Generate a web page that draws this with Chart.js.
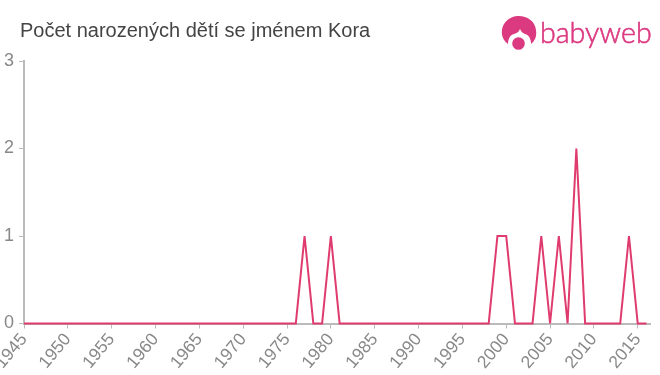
<!doctype html>
<html>
<head>
  <meta charset="utf-8">
  <script src="https://cdn.jsdelivr.net/npm/chart.js@4/dist/chart.umd.min.js"></script>
  <style>
    html, body { margin: 0; padding: 0; background: #fff; overflow: hidden; }
    #wrap { position: relative; width: 660px; height: 375px; }
    #f { position: absolute; left: 0; top: 0; }
    #title { position: absolute; left: 20px; top: 19px; font: 20px/22px "Liberation Sans", Arial, sans-serif; color: #444; white-space: nowrap; }
    #logo { position: absolute; left: 500px; top: 14px; }
    #logotext { position: absolute; left: 540px; top: 15px; font: 300 28.6px/34px Lato, sans-serif; color: #dc3a80; -webkit-text-stroke: 0.6px #dc3a80; white-space: nowrap; }
  </style>
</head>
  <body>
    <div id="wrap">
      <canvas id="f" width="660" height="375"></canvas>
      <div id="title">Počet narozených dětí se jménem Kora</div>
      <svg id="logo" width="40" height="38" viewBox="0 0 40 38">
        <path d="M8 30 C1 25 1 17 3 12 C7 3 15 2 19 2 C27 2 35 7 36 16 C37 22 35 27 31 30 C31 25 29 21 25 20 C22 19 21 17 20 15 C19 17 18 19 14 20 C10 21 8 25 8 30 Z" fill="#dc3a80"/>
        <circle cx="18.5" cy="29.5" r="6.3" fill="#dc3a80"/>
      </svg>
      <div id="logotext">babyweb</div>
    </div>
  </body>
  <script>
    const years = [];
    for (let y = 1945; y <= 2016; y++) years.push(y);
    const peaks = {1977: 1, 1980: 1, 1999: 1, 2000: 1, 2004: 1, 2006: 1, 2008: 2, 2014: 1};
    const counts = years.map(y => peaks[y] || 0);
    const yTicks = [0, 1, 2, 3];

    new Chart(document.getElementById('f').getContext('2d'), {
      type: 'line',
      data: {
        datasets: [{
          data: years.map((y, i) => ({x: y, y: counts[i]})),
          borderColor: '#df3b6f',
          borderWidth: 2,
          pointRadius: 0,
          tension: 0,
          clip: false
        }]
      },
      options: {
        responsive: false,
        animation: false,
        layout: {padding: {top: 61, right: 10, left: 0, bottom: 0}},
        plugins: {legend: {display: false}, tooltip: {enabled: false}},
        scales: {
          x: {
            type: 'linear',
            min: 1945,
            max: 2016.4,
            grid: {drawOnChartArea: false, color: '#bbb', tickLength: 5, lineWidth: 1},
            border: {color: '#bbb', width: 2},
            ticks: {
              stepSize: 5,
              includeBounds: false,
              autoSkip: false,
              maxRotation: 50,
              minRotation: 50,
              padding: 1,
              color: '#888',
              font: {family: '"Liberation Sans", Arial, sans-serif', size: 17.5},
              callback: v => String(v)
            },
            afterFit: s => { s.height = 51.5; s.paddingLeft = 0; s.paddingRight = 0; }
          },
          y: {
            min: 0,
            max: 3,
            grid: {drawOnChartArea: false, color: '#bbb', tickLength: 5, lineWidth: 1},
            border: {color: '#bbb', width: 2},
            afterBuildTicks: s => { s.ticks = yTicks.map(v => ({value: v})); },
            ticks: {
              padding: 5,
              color: '#888',
              font: {family: '"Liberation Sans", Arial, sans-serif', size: 18},
              callback: v => String(v)
            },
            afterFit: s => { s.width = 24; s.paddingTop = 0; s.paddingBottom = 0; }
          }
        }
      }
    });
  </script>
</html>
